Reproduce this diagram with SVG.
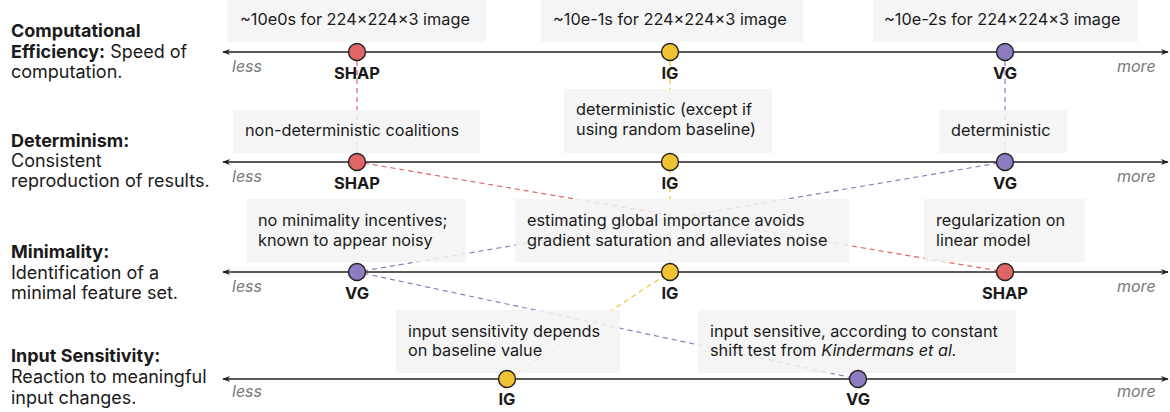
<svg xmlns="http://www.w3.org/2000/svg" width="1170" height="412" viewBox="0 0 1170 412">
<style>
text{font-family:Inter,"Liberation Sans",sans-serif;fill:#1a1a1a}
.h{font-size:18px}
.b{font-weight:700}
.box{fill:#f3f3f3;fill-opacity:0.85}
.bt{font-size:16.3px}
.lab{font-size:16.5px;font-weight:700;text-anchor:middle}
.lm{font-size:16px;font-style:italic;fill:#7a7a7a}
.axis{stroke:#222;stroke-width:1.4;fill:none}
.dot{stroke:#222;stroke-width:1.4}
.shap{fill:#e06666}.ig{fill:#f1c232}.vg{fill:#8e7cc3}
.c{fill:none;stroke-width:1.2;stroke-dasharray:5 4}
</style>
<defs>
<marker id="ah" viewBox="0 0 10 10" refX="9" refY="5" markerWidth="8" markerHeight="8" orient="auto-start-reverse" markerUnits="userSpaceOnUse"><path d="M0,1 L10,5 L0,9 L3,5 Z" fill="#222"/></marker>
</defs>

<g id="connectors">
<path class="c" stroke="#e06666" d="M357,52 L357,162 L1005,272"/>
<path class="c" stroke="#f1c232" d="M670,52 L670,162 L670,272 L507,379"/>
<path class="c" stroke="#8e7cc3" d="M1005,52 L1005,162 L357,272 L858,379"/>
</g>

<g id="label-efficiency"><text class="h" x="11" y="37"><tspan class="b">Computational</tspan><tspan x="11" dy="20.5" class="b">Efficiency:</tspan><tspan> Speed of</tspan><tspan x="11" dy="20.5">computation.</tspan></text></g>
<g id="label-determinism"><text class="h" x="11" y="147"><tspan class="b">Determinism:</tspan><tspan x="11" dy="20">Consistent</tspan><tspan x="11" dy="20">reproduction of results.</tspan></text></g>
<g id="label-minimality"><text class="h" x="11" y="258"><tspan class="b">Minimality:</tspan><tspan x="11" dy="20.5">Identification of a</tspan><tspan x="11" dy="20.5">minimal feature set.</tspan></text></g>
<g id="label-sensitivity"><text class="h" x="11" y="362"><tspan class="b">Input Sensitivity:</tspan><tspan x="11" dy="21">Reaction to meaningful</tspan><tspan x="11" dy="21">input changes.</tspan></text></g>

<g id="axis-1"><line class="axis" x1="223" y1="52" x2="1168" y2="52" marker-start="url(#ah)" marker-end="url(#ah)"/><text class="lm" x="232" y="72">less</text><text class="lm" x="1117" y="72">more</text></g>
<g id="axis-2"><line class="axis" x1="223" y1="162" x2="1168" y2="162" marker-start="url(#ah)" marker-end="url(#ah)"/><text class="lm" x="232" y="182">less</text><text class="lm" x="1117" y="182">more</text></g>
<g id="axis-3"><line class="axis" x1="223" y1="272" x2="1168" y2="272" marker-start="url(#ah)" marker-end="url(#ah)"/><text class="lm" x="232" y="292">less</text><text class="lm" x="1117" y="292">more</text></g>
<g id="axis-4"><line class="axis" x1="223" y1="379" x2="1168" y2="379" marker-start="url(#ah)" marker-end="url(#ah)"/><text class="lm" x="232" y="397">less</text><text class="lm" x="1117" y="397">more</text></g>

<g id="note-shap-eff"><rect class="box" x="227" y="0" width="259" height="42"/><text class="bt" x="240" y="25">~10e0s for 224×224×3 image</text></g>
<g id="note-ig-eff"><rect class="box" x="541" y="0" width="262" height="42"/><text class="bt" x="553" y="25">~10e-1s for 224×224×3 image</text></g>
<g id="note-vg-eff"><rect class="box" x="873" y="0" width="265" height="42"/><text class="bt" x="884" y="25">~10e-2s for 224×224×3 image</text></g>

<g id="note-shap-det"><rect class="box" x="233" y="110" width="247" height="43"/><text class="bt" x="245" y="136">non-deterministic coalitions</text></g>
<g id="note-ig-det"><rect class="box" x="564" y="89" width="208" height="64"/><text class="bt" x="576" y="115">deterministic (except if<tspan x="576" dy="20">using random baseline)</tspan></text></g>
<g id="note-vg-det"><rect class="box" x="939" y="110" width="128" height="43"/><text class="bt" x="951" y="136">deterministic</text></g>

<g id="note-vg-min"><rect class="box" x="247" y="199" width="219" height="63"/><text class="bt" x="258" y="226">no minimality incentives;<tspan x="258" dy="20">known to appear noisy</tspan></text></g>
<g id="note-ig-min"><rect class="box" x="515" y="199" width="334" height="63"/><text class="bt" x="527" y="226">estimating global importance avoids<tspan x="527" dy="20">gradient saturation and alleviates noise</tspan></text></g>
<g id="note-shap-min"><rect class="box" x="924" y="199" width="161" height="63"/><text class="bt" x="936" y="226">regularization on<tspan x="936" dy="20">linear model</tspan></text></g>

<g id="note-ig-sens"><rect class="box" x="396" y="310" width="224" height="63"/><text class="bt" x="408" y="337">input sensitivity depends<tspan x="408" dy="19">on baseline value</tspan></text></g>
<g id="note-vg-sens"><rect class="box" x="698" y="310" width="318" height="63"/><text class="bt" x="710" y="337">input sensitive, according to constant<tspan x="710" dy="19">shift test from </tspan><tspan font-style="italic">Kindermans et al.</tspan></text></g>

<g id="shap-1"><circle class="dot shap" cx="357" cy="52" r="8.5"/><text class="lab" x="357" y="79">SHAP</text></g>
<g id="ig-1"><circle class="dot ig" cx="670" cy="52" r="8.5"/><text class="lab" x="670" y="79">IG</text></g>
<g id="vg-1"><circle class="dot vg" cx="1005" cy="52" r="8.5"/><text class="lab" x="1005" y="79">VG</text></g>

<g id="shap-2"><circle class="dot shap" cx="357" cy="162" r="8.5"/><text class="lab" x="357" y="189">SHAP</text></g>
<g id="ig-2"><circle class="dot ig" cx="670" cy="162" r="8.5"/><text class="lab" x="670" y="189">IG</text></g>
<g id="vg-2"><circle class="dot vg" cx="1005" cy="162" r="8.5"/><text class="lab" x="1005" y="189">VG</text></g>

<g id="vg-3"><circle class="dot vg" cx="357" cy="272" r="8.5"/><text class="lab" x="357" y="299">VG</text></g>
<g id="ig-3"><circle class="dot ig" cx="670" cy="272" r="8.5"/><text class="lab" x="670" y="299">IG</text></g>
<g id="shap-3"><circle class="dot shap" cx="1005" cy="272" r="8.5"/><text class="lab" x="1005" y="299">SHAP</text></g>

<g id="ig-4"><circle class="dot ig" cx="507" cy="379" r="8.5"/><text class="lab" x="507" y="405">IG</text></g>
<g id="vg-4"><circle class="dot vg" cx="858" cy="379" r="8.5"/><text class="lab" x="858" y="405">VG</text></g>
</svg>
